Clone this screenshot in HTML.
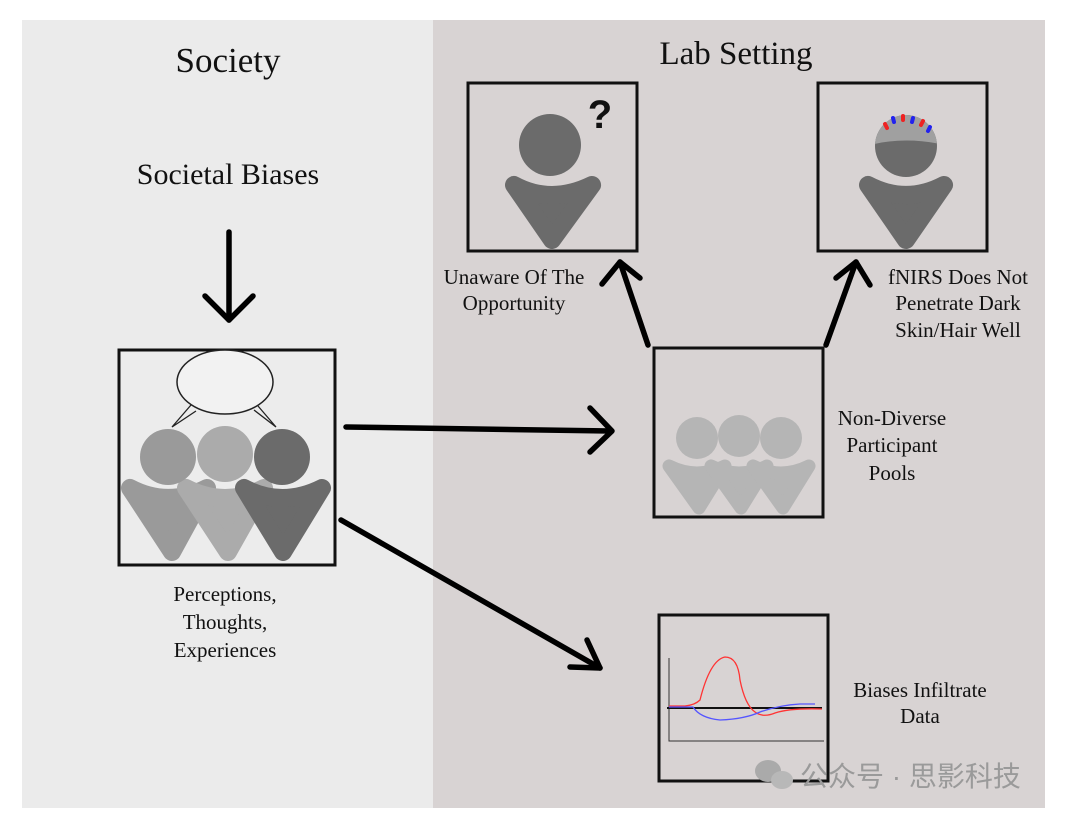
<!DOCTYPE html>
<html><head><meta charset="utf-8"><style>
html,body{margin:0;padding:0;background:#fff;}
svg{display:block;}
text{font-family:"Liberation Serif",serif;fill:#111;}
</style></head><body>
<svg width="1080" height="820" viewBox="0 0 1080 820" xmlns="http://www.w3.org/2000/svg">
<rect x="0" y="0" width="1080" height="820" fill="#fff"/>
<rect x="22" y="20" width="411" height="788" fill="#ebebeb"/>
<rect x="433" y="20" width="612" height="788" fill="#d8d3d3"/>

<text x="228" y="72" font-size="35" text-anchor="middle">Society</text>
<text x="736" y="64" font-size="33" text-anchor="middle">Lab Setting</text>
<text x="228" y="184" font-size="30" text-anchor="middle">Societal Biases</text>

<g stroke="#000" stroke-width="5.5" fill="none" stroke-linecap="round" stroke-linejoin="round">
<line x1="229" y1="232" x2="229" y2="320"/>
<polyline points="205,296 229,320 253,296"/>
<line x1="346" y1="427" x2="610" y2="431"/>
<polyline points="590,408 612,431 590,452"/>
<line x1="341" y1="520" x2="600" y2="668"/>
<polyline points="570,667 600,668 587,640"/>
<line x1="648" y1="345" x2="620" y2="262"/>
<polyline points="602,284 620,262 640,278"/>
<line x1="826" y1="345" x2="856" y2="262"/>
<polyline points="836,278 856,262 870,285"/>
</g>

<rect x="119" y="350" width="216" height="215" fill="#ececec" stroke="#111" stroke-width="3"/>
<ellipse cx="225" cy="382" rx="48" ry="32" fill="#f2f2f2" stroke="#222" stroke-width="1.5"/>
<polyline points="191,405 172,427 196,411" fill="none" stroke="#222" stroke-width="1.3"/>
<polyline points="254,410 276,427 258,406" fill="none" stroke="#222" stroke-width="1.3"/>
<g stroke-linejoin="round" stroke-width="18">
<path d="M130,488 Q168,508 207,488 L172,552 Z" fill="#9a9a9a" stroke="#9a9a9a"/>
<path d="M186,488 Q225,508 264,488 L228,552 Z" fill="#ababab" stroke="#ababab"/>
<path d="M244,488 Q282,508 322,488 L283,552 Z" fill="#6b6b6b" stroke="#6b6b6b"/>
</g>
<circle cx="168" cy="457" r="28" fill="#9a9a9a"/>
<circle cx="225" cy="454" r="28" fill="#ababab"/>
<circle cx="282" cy="457" r="28" fill="#6b6b6b"/>
<text x="225" y="601" font-size="21" text-anchor="middle">Perceptions,</text>
<text x="225" y="629" font-size="21" text-anchor="middle">Thoughts,</text>
<text x="225" y="657" font-size="21" text-anchor="middle">Experiences</text>

<rect x="468" y="83" width="169" height="168" fill="#d8d3d3" stroke="#111" stroke-width="3"/>
<path d="M514,185 Q551,205 592,185 L552,240 Z" fill="#6b6b6b" stroke="#6b6b6b" stroke-width="18" stroke-linejoin="round"/>
<circle cx="550" cy="145" r="31" fill="#6b6b6b"/>
<text x="600" y="128" font-size="40" font-weight="bold" text-anchor="middle" style="font-family:'Liberation Sans',sans-serif">?</text>
<text x="514" y="284" font-size="21" text-anchor="middle">Unaware Of The</text>
<text x="514" y="310" font-size="21" text-anchor="middle">Opportunity</text>

<rect x="818" y="83" width="169" height="168" fill="#d8d3d3" stroke="#111" stroke-width="3"/>
<path d="M868,185 Q906,205 944,185 L906,240 Z" fill="#6b6b6b" stroke="#6b6b6b" stroke-width="18" stroke-linejoin="round"/>
<clipPath id="hc"><circle cx="906" cy="146" r="31"/></clipPath>
<circle cx="906" cy="146" r="31" fill="#6b6b6b"/>
<path d="M870,100 L945,100 L945,145 Q906,136 870,145 Z" fill="#a0a0a0" clip-path="url(#hc)"/>
<g stroke-width="4" stroke-linecap="round">
<line x1="885" y1="124" x2="887" y2="128" stroke="#e22"/>
<line x1="893" y1="118" x2="894" y2="122" stroke="#22e"/>
<line x1="903" y1="116" x2="903" y2="120" stroke="#e22"/>
<line x1="913" y1="118" x2="912" y2="122" stroke="#22e"/>
<line x1="923" y1="121" x2="921" y2="125" stroke="#e22"/>
<line x1="930" y1="127" x2="928" y2="131" stroke="#22e"/>
</g>
<text x="958" y="284" font-size="21" text-anchor="middle">fNIRS Does Not</text>
<text x="958" y="310" font-size="21" text-anchor="middle">Penetrate Dark</text>
<text x="958" y="337" font-size="21" text-anchor="middle">Skin/Hair Well</text>

<rect x="654" y="348" width="169" height="169" fill="#d8d3d3" stroke="#111" stroke-width="3"/>
<g stroke-linejoin="round" stroke-width="13" fill="#b5b5b5" stroke="#b5b5b5">
<path d="M669,466 Q697,480 725,466 L699,508 Z"/>
<path d="M711,466 Q739,480 767,466 L741,508 Z"/>
<path d="M753,466 Q781,480 809,466 L783,508 Z"/>
</g>
<circle cx="697" cy="438" r="21" fill="#b5b5b5"/>
<circle cx="739" cy="436" r="21" fill="#b5b5b5"/>
<circle cx="781" cy="438" r="21" fill="#b5b5b5"/>
<text x="892" y="425" font-size="21" text-anchor="middle">Non-Diverse</text>
<text x="892" y="452" font-size="21" text-anchor="middle">Participant</text>
<text x="892" y="480" font-size="21" text-anchor="middle">Pools</text>

<rect x="659" y="615" width="169" height="166" fill="#d8d3d3" stroke="#111" stroke-width="3"/>
<polyline points="669,658 669,741 824,741" fill="none" stroke="#333" stroke-width="1"/>
<line x1="667" y1="708" x2="822" y2="708" stroke="#111" stroke-width="2"/>
<path d="M669,706 L685,706 Q695,705 700,700 Q710,660 725,657 Q738,657 740,680 Q745,705 755,712 Q763,718 775,713 Q790,708 822,709" fill="none" stroke="#f33" stroke-width="1.3"/>
<path d="M669,707 L693,707 Q700,718 720,720 Q745,719 760,712 Q780,705 800,704 L815,704" fill="none" stroke="#55f" stroke-width="1.3"/>
<text x="920" y="697" font-size="21" text-anchor="middle">Biases Infiltrate</text>
<text x="920" y="723" font-size="21" text-anchor="middle">Data</text>

<g fill="#aaa">
<ellipse cx="768" cy="771" rx="13" ry="11"/>
<ellipse cx="782" cy="780" rx="11" ry="9" fill="#b8b8b8"/>
</g>
<text x="800" y="786" font-size="28" style="fill:#9a9a9a;font-family:'Liberation Sans','Noto Sans CJK SC',sans-serif">公众号 · 思影科技</text>
</svg>
</body></html>
